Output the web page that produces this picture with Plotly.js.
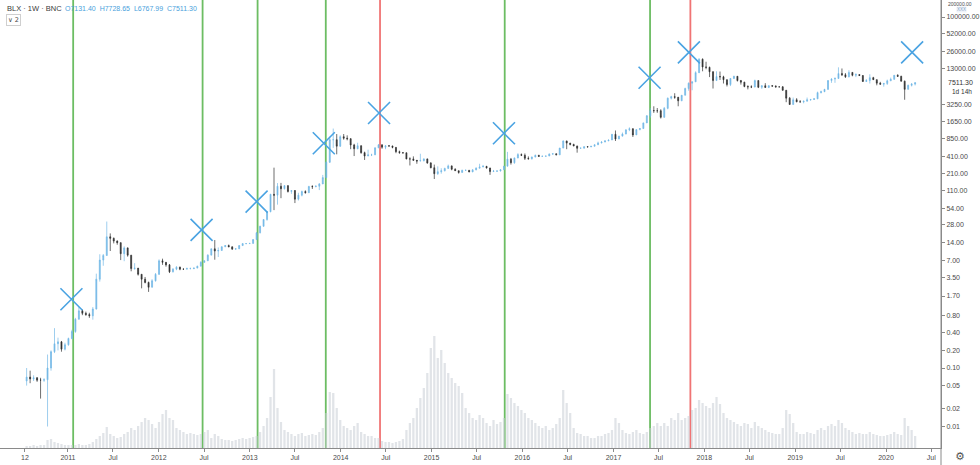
<!DOCTYPE html>
<html><head><meta charset="utf-8">
<script src="https://cdn.plot.ly/plotly-3.0.1.min.js"></script>
<style>html,body{margin:0;padding:0;background:#fff}#chart{width:980px;height:465px}</style>
</head><body><div id="chart"></div>
<script>
// ---- data (2-week candles) ----
const startDate = '2010-07-12';
const stepDays = 14;
const firstOpen = 0.06;
const closes = [
 0.07,0.065,0.068,0.062,0.062,0.063,0.10,0.19,0.26,0.28,0.21,0.25,0.32,
 0.42,0.68,0.95,0.86,0.82,0.78,1.02,3.3,7.0,8.4,17.5,16.5,14.8,13.9,9.0,11.3,8.5,5.0,5.1,4.0,3.3,2.9,2.4,3.1,4.0,6.8,
 6.4,5.8,4.4,4.9,5.3,4.9,4.9,5.0,5.0,5.1,5.5,6.4,6.8,8.5,10.9,10.0,10.2,11.8,12.4,11.8,10.8,10.9,12.4,13.4,13.4,13.5,
 15.7,20.5,26.5,34.5,47,93,90,128,116,131,104,108,77,90,104,99,127,126,128,140,180,330,800,800,620,900,
 850,830,650,560,630,480,420,440,440,580,655,595,630,625,590,500,480,478,375,375,355,345,350,375,320,265,
 210,227,235,258,285,250,236,220,240,240,225,244,260,274,280,262,228,232,233,246,282,372,323,390,445,433,
 385,378,405,432,415,417,421,455,460,440,575,760,700,665,625,570,572,608,600,617,655,705,730,765,790,990,
 820,920,1000,1180,1230,965,1190,1240,1550,2050,2520,2500,2500,1930,2750,4100,4350,4250,3700,4600,6000,7400,7800,11200,19000,14000,
 13800,11600,8200,9600,9500,8500,7000,8900,9700,8200,7700,6500,6400,6350,8200,6300,6700,6250,6700,6600,6400,6400,5600,4100,3200,3850,3550,
 3550,3650,3850,3900,4000,5100,5300,5800,8200,8700,8900,10800,10300,9500,11300,10100,10400,10000,7900,8200,9200,8500,7400,7100,7300,8100,
 8600,10100,9700,8000,5800,6800,7131.40,7511.30
];
const highs = [
 0.10,0.09,0.075,0.07,0.068,0.067,0.17,0.20,0.48,0.33,0.29,0.27,0.33,
 0.45,0.72,1.1,1.0,0.92,0.88,1.1,4.1,8.8,8.9,31.9,20,17,15.2,14,12,11.5,8.5,6.2,5.1,4.0,3.6,3.0,3.3,4.2,7.2,
 7.4,6.5,6.0,5.1,5.5,5.4,5.0,5.2,5.2,5.2,5.6,6.7,6.9,8.8,11,15.4,11.5,12,12.6,12.9,11.9,11.1,12.6,13.5,13.6,13.7,
 16.0,21,27,35,48,95,266,145,146,134,133,110,110,99,108,109,130,133,133,145,200,340,900,1240,1000,950,
 1000,950,850,680,710,640,500,540,460,590,670,660,640,640,630,600,520,490,480,400,415,360,460,385,380,330,
 300,280,260,265,300,290,260,236,245,245,240,250,270,310,296,285,265,243,240,248,285,495,390,395,470,465,
 465,415,410,445,440,425,425,465,465,465,580,780,770,705,680,630,590,612,612,620,660,740,750,770,795,1000,
 1150,930,1060,1190,1300,1250,1200,1260,1560,2100,2780,2980,2780,2650,2900,4200,4500,4980,4300,4620,6200,7600,7900,11800,19800,19600,
 17200,14200,11800,11800,11700,9900,8500,9000,9900,9800,8400,7800,6800,6800,8500,8200,6800,7400,6800,6800,6800,6500,6600,5600,4300,4200,4100,
 3800,3700,4200,3950,4100,5300,5500,5900,8300,9000,9300,13800,13200,11000,12300,11400,10900,10500,10100,8700,10500,9500,8500,7800,7500,8500,
 9200,10150,10500,9900,8200,7000,7450,7728.65
];
const lows = [
 0.05,0.055,0.06,0.058,0.03,0.058,0.01,0.09,0.18,0.2,0.19,0.2,0.24,
 0.31,0.4,0.68,0.8,0.78,0.72,0.67,1.0,3.0,5.6,8.3,10,13.5,12.8,7,6.7,8.0,4.5,4.8,3.8,2.3,2.8,2.0,2.4,3.0,3.9,
 5.8,5.4,4.2,4.3,4.7,4.7,4.8,4.9,4.9,4.9,5.1,5.5,6.3,6.8,8.5,7.1,7.9,10.2,11.8,11.6,10.4,10.5,10.8,12.3,13.1,13.2,
 13.4,15.5,20,26,33,46,50,62,80,113,100,95,66,73,86,96,99,115,123,110,140,190,320,580,450,600,
 800,780,550,420,550,460,360,420,420,440,580,560,550,605,570,470,460,460,370,290,350,310,345,340,310,260,
 170,200,210,230,255,240,235,210,220,233,222,223,240,260,270,258,200,225,225,230,245,280,300,310,385,420,
 360,365,365,400,405,405,412,420,440,435,440,575,550,640,620,480,565,570,595,600,615,655,690,725,755,790,
 760,820,920,990,1120,890,965,1160,1230,1550,1900,2300,2300,1840,1900,2650,3900,4000,2980,3650,4600,5500,5600,7800,11000,11800,
 12800,9400,6000,8200,8400,7300,6500,6600,8700,7900,7000,6300,5800,6100,6300,6100,5900,6150,6100,6400,6200,6300,5500,3500,3150,3200,3500,
 3450,3350,3550,3700,3850,3950,4950,5200,5700,7500,7500,9000,9800,9100,9300,9700,9400,9800,7800,7800,7300,8400,6800,7000,6450,6900,
 8100,8500,9500,7900,3850,5800,6500,6767.99
];
const volumes = [
 2,2,3,2,3,3,
 8,9,6,5,4,3,3,
 3,3,4,3,3,4,6,
 9,12,15,21,14,12,10,11,
 14,16,20,18,22,26,30,28,24,20,26,34,38,30,28,20,
 18,16,14,15,14,13,14,16,
 18,10,14,12,9,8,8,7,8,9,10,9,10,11,12,
 16,22,30,51,79,40,26,18,16,
 14,12,14,15,12,13,14,13,16,20,
 35,56,55,40,28,22,
 20,18,22,25,16,14,12,12,10,10,
 7,6,6,5,6,7,9,
 18,25,30,40,50,
 60,75,100,112,90,98,85,75,70,65,62,55,
 40,35,30,28,33,
 30,25,22,28,24,26,30,
 54,50,45,42,38,35,30,
 28,25,22,20,22,18,20,24,30,
 58,45,35,
 20,15,14,12,12,10,10,12,12,14,15,18,
 30,25,
 18,15,14,16,18,15,14,16,20,22,25,22,
 25,22,30,28,35,28,30,32,38,40,48,45,42,40,45,51,44,
 35,30,28,26,24,22,25,24,20,26,22,20,18,16,15,14,14,
 20,38,34,25,
 16,14,14,16,15,14,18,20,18,22,24,22,28,25,20,18,16,14,15,14,14,16,14,13,12,12,13,14,16,14,13,
 30,22,18,12
];
const xTickVals = ['2010-07-12','2011-01-01','2011-07-01','2012-01-01','2012-07-01','2013-01-01','2013-07-01','2014-01-01','2014-07-01','2015-01-01','2015-07-01','2016-01-01','2016-07-01','2017-01-01','2017-07-01','2018-01-01','2018-07-01','2019-01-01','2019-07-01','2020-01-01','2020-07-01'];
const xTickText = ['12','2011','Jul','2012','Jul','2013','Jul','2014','Jul','2015','Jul','2016','Jul','2017','Jul','2018','Jul','2019','Jul','2020','Jul'];
const yTickVals = [0.01,0.02,0.05,0.1,0.2,0.4,0.8,1.7,3.5,7,14,28,54,110,210,410,850,1650,3250,13000,26000,52000,100000];
const signalDates = ['2011-01-22','2012-06-25','2013-02-01','2013-11-02','2014-06-08','2015-10-22','2017-05-28','2017-11-06'];
const signalKinds = ['buy','buy','buy','buy','sell','buy','buy','sell'];
const crossDates = ['2011-01-15','2012-06-21','2013-01-28','2013-10-25','2014-06-04','2015-10-19','2017-05-26','2017-10-31','2020-04-15'];
const crossPrices = [1.5,23,70,695,2290,1030,9170,24900,24900];
const symbolText = 'BLX · 1W · BNC';
const countdownText = '1d 14h';
const topCutLabel = '200000.00';

// ---- build ----
const dayMs = 86400000;
const t0 = Date.parse(startDate + 'T00:00:00Z');
const dates = closes.map((_, i) => new Date(t0 + (i * stepDays + 7) * dayMs).toISOString().slice(0, 10));
const opens = closes.map((c, i) => i === 0 ? firstOpen : closes[i - 1]);
const last = closes.length - 1;
const fmt = v => v.toFixed(2);

const UP = '#74b9e6', DOWN = '#2f2f2f';
const lineColors = {buy: '#6cbd63', sell: '#f07474'};
const FONT = 'Liberation Sans, Arial, sans-serif';
const TICKC = '#4a4a4a';

const traces = [
  {type: 'bar', x: dates, y: volumes, yaxis: 'y', marker: {color: 'rgba(200,206,214,0.55)'}, hoverinfo: 'skip'},
  {type: 'candlestick', x: dates, open: opens, high: highs, low: lows, close: closes, yaxis: 'y2',
   increasing: {line: {color: UP, width: 0.7}, fillcolor: UP},
   decreasing: {line: {color: DOWN, width: 0.7}, fillcolor: DOWN},
   whiskerwidth: 0, hoverinfo: 'skip'},
  {type: 'scatter', mode: 'markers', x: crossDates, y: crossPrices, yaxis: 'y2',
   marker: {symbol: 'x-thin', size: 22, color: '#4aa3e2', line: {color: '#4aa3e2', width: 1.6}}, hoverinfo: 'skip'}
];

const shapes = signalDates.map((d, i) => ({
  type: 'line', xref: 'x', yref: 'paper', x0: d, x1: d, y0: 0, y1: 1,
  line: {color: lineColors[signalKinds[i]], width: 1.8}, layer: 'below'
}));
shapes.push({type: 'line', xref: 'paper', yref: 'paper', x0: 1, x1: 1, y0: -17/448, y1: 1, line: {color: '#8a8a8a', width: 1}});

const annotations = [
  {xref: 'paper', yref: 'paper', x: 5/941, y: 1 - 9/448, xanchor: 'left', yanchor: 'middle', showarrow: false,
   text: symbolText, font: {family: FONT, size: 7.5, color: '#3a3a3a'}},
  {xref: 'paper', yref: 'paper', x: 63/941, y: 1 - 9/448, xanchor: 'left', yanchor: 'middle', showarrow: false,
   text: 'O' + fmt(opens[last]) + '  H' + fmt(highs[last]) + '  L' + fmt(lows[last]) + '  C' + fmt(closes[last]),
   font: {family: FONT, size: 7, color: '#4a9fdc'}},
  {xref: 'paper', yref: 'paper', x: 6/941, y: 1 - 20/448, xanchor: 'left', yanchor: 'middle', showarrow: false,
   text: '∨ 2', font: {family: 'DejaVu Sans, sans-serif', size: 6.5, color: '#444'}, bordercolor: '#cfcfcf', borderwidth: 1, borderpad: 1, bgcolor: '#fff'},
  {xref: 'paper', yref: 'y2', x: 1, y: Math.log10(closes[last]), xanchor: 'left', yanchor: 'middle', xshift: 5, showarrow: false,
   text: fmt(closes[last]), font: {family: FONT, size: 7, color: '#333'}, bgcolor: '#fff'},
  {xref: 'paper', yref: 'y2', x: 1, y: Math.log10(closes[last]), xanchor: 'left', yanchor: 'middle', xshift: 9, yshift: -9, showarrow: false,
   text: countdownText, font: {family: FONT, size: 6.5, color: '#333'}},
  {xref: 'paper', yref: 'paper', x: 1, y: 1, xanchor: 'left', yanchor: 'top', xshift: 6, showarrow: false,
   text: topCutLabel, font: {family: FONT, size: 5, color: TICKC}, borderpad: 0},
  {xref: 'paper', yref: 'paper', x: 1, y: 1 - 9.7/448, xanchor: 'left', yanchor: 'middle', xshift: 15, showarrow: false,
   text: 'XXX', font: {family: FONT, size: 4.5, color: '#8aa6c8'}, bgcolor: '#eef2f8', borderpad: 0},
  {xref: 'paper', yref: 'paper', x: 1, y: -8/448, xanchor: 'left', yanchor: 'middle', xshift: 12, showarrow: false,
   text: '⚙', font: {family: 'DejaVu Sans, sans-serif', size: 11, color: '#555'}}
];

const layout = {
  width: 980, height: 465,
  margin: {l: 0, r: 39, t: 0, b: 17, pad: 0},
  paper_bgcolor: '#ffffff', plot_bgcolor: '#ffffff',
  showlegend: false, bargap: 0.35, boxgap: 0.6,
  font: {family: FONT, size: 7, color: TICKC},
  xaxis: {type: 'date', range: ['2010-04-03', '2020-08-09'], rangeslider: {visible: false},
    tickmode: 'array', tickvals: xTickVals, ticktext: xTickText,
    showgrid: false, zeroline: false, showline: true, linecolor: '#8a8a8a', linewidth: 1,
    ticks: 'outside', ticklen: 3, tickcolor: '#8a8a8a', tickfont: {family: FONT, size: 7, color: TICKC}, fixedrange: true},
  yaxis: {range: [0, 448], visible: false, fixedrange: true},
  yaxis2: {type: 'log', overlaying: 'y', side: 'right', range: [-2.3675, 5.291],
    tickmode: 'array', tickvals: yTickVals, ticktext: yTickVals.map(fmt),
    showgrid: false, zeroline: false, showline: true, linecolor: '#8a8a8a', linewidth: 1,
    ticks: 'outside', ticklen: 3, tickcolor: '#8a8a8a', tickfont: {family: FONT, size: 7, color: TICKC}, fixedrange: true},
  shapes: shapes,
  annotations: annotations
};

Plotly.newPlot('chart', traces, layout, {displayModeBar: false, staticPlot: true});
</script>
</body></html>
